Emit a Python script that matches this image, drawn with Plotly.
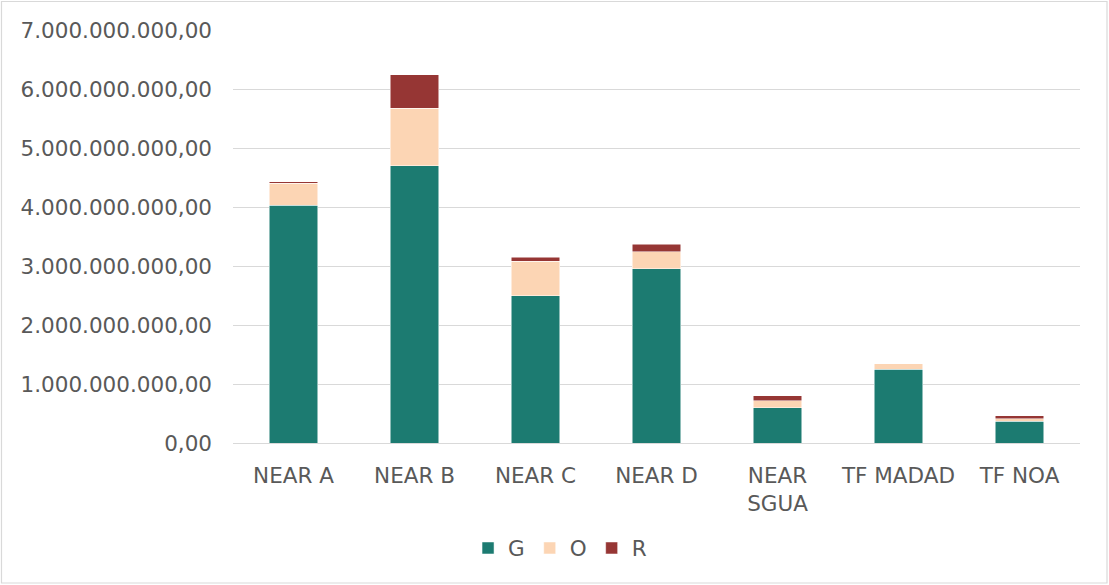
import plotly.graph_objects as go

# Stacked totals per programme, split by status
categories = ["NEAR A", "NEAR B", "NEAR C", "NEAR D", "NEAR<br>SGUA", "TF MADAD", "TF NOA"]
g_values = [4.03e9, 4.70e9, 2.50e9, 2.95e9, 0.60e9, 1.25e9, 0.37e9]
o_values = [0.37e9, 0.97e9, 0.58e9, 0.29e9, 0.12e9, 0.09e9, 0.04e9]
r_values = [0.03e9, 0.57e9, 0.07e9, 0.13e9, 0.08e9, 0.00e9, 0.05e9]

series = [
    ("G", g_values, "#1c7b71"),
    ("O", o_values, "#fcd5b4"),
    ("R", r_values, "#963634"),
]

W, H = 1109, 585
ML, MR, MT, MB = 233, 29, 30, 142
FONT = dict(family="DejaVu Sans, Verdana, sans-serif", size=21.5, color="#595959")

fig = go.Figure()
for name, vals, color in series:
    fig.add_trace(go.Bar(
        x=categories, y=vals, name=name,
        marker=dict(color=color, line=dict(color="white", width=0.5)),
    ))

pw = W - ML - MR
ph = H - MT - MB
# light frame around the whole chart
fig.add_shape(
    type="rect", xref="paper", yref="paper",
    x0=(1.5 - ML) / pw, x1=(W - 2 - ML) / pw,
    y0=-(H - 2 - MT - ph) / ph, y1=(MT - 1.5) / ph + 1,
    line=dict(color="#d9d9d9", width=1.2), fillcolor="rgba(0,0,0,0)", layer="below",
)

fig.update_layout(
    width=W, height=H,
    barmode="stack", bargap=0.6,
    separators=",.",
    font=FONT,
    plot_bgcolor="white", paper_bgcolor="white",
    margin=dict(l=ML, r=MR, t=MT, b=MB, autoexpand=False),
    legend=dict(
        orientation="h", xref="container", yref="container",
        x=0.505, xanchor="center", y=1 - 548 / H, yanchor="middle",
        font=FONT, itemwidth=30, tracegroupgap=0, traceorder="normal",
    ),
    xaxis=dict(
        showgrid=False, showline=True, linecolor="#d9d9d9", linewidth=1,
        ticks="", ticklabelstandoff=13, tickfont=FONT,
    ),
    yaxis=dict(
        range=[0, 7e9], dtick=1e9, tickformat=",.2f",
        showgrid=True, gridcolor="#d9d9d9", gridwidth=1,
        zeroline=False, showline=False, ticks="",
        ticklabelstandoff=20, tickfont=FONT,
    ),
)

fig.write_html("out.html")
